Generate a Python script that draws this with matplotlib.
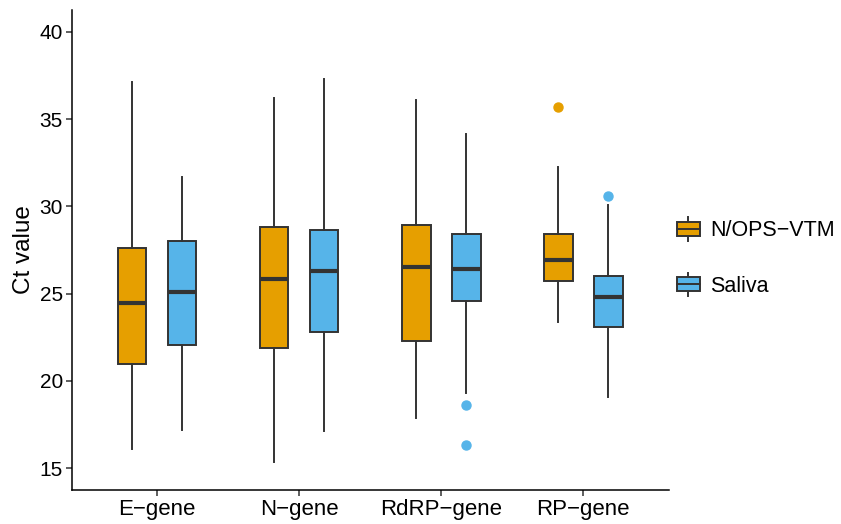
import matplotlib
matplotlib.use("Agg")
import matplotlib.pyplot as plt
from matplotlib.legend_handler import HandlerBase
from matplotlib.patches import Patch, Rectangle
from matplotlib.lines import Line2D

plt.rcParams['font.family'] = ['Liberation Sans', 'DejaVu Sans']

genes = ["E\u2212gene", "N\u2212gene", "RdRP\u2212gene", "RP\u2212gene"]
groups = ["N/OPS\u2212VTM", "Saliva"]
colors = ["#E69F00", "#56B4E9"]

# whislo, q1, median, q3, whishi
nops_lo = [16.07, 15.34, 17.87, 23.40]
nops_q1 = [20.96, 21.87, 22.30, 25.70]
nops_med = [24.44, 25.85, 26.50, 26.94]
nops_q3 = [27.60, 28.80, 28.94, 28.40]
nops_hi = [37.10, 36.20, 36.10, 32.26]
nops_out = [[], [], [], [35.7]]

sal_lo = [17.20, 17.14, 19.30, 19.07]
sal_q1 = [22.05, 22.80, 24.60, 23.10]
sal_med = [25.10, 26.30, 26.40, 24.80]
sal_q3 = [28.03, 28.65, 28.40, 26.03]
sal_hi = [31.70, 37.30, 34.15, 30.10]
sal_out = [[], [], [18.6, 16.3], [30.6]]

series = [
    (nops_lo, nops_q1, nops_med, nops_q3, nops_hi, nops_out),
    (sal_lo, sal_q1, sal_med, sal_q3, sal_hi, sal_out),
]

fig = plt.figure(figsize=(8.41, 5.24), dpi=100)
ax = fig.add_axes([0.0856, 0.0649, 0.795 - 0.0856, 0.981 - 0.0649])

edge = "#333333"
offsets = [-0.176, 0.176]
for gi, (lo, q1, med, q3, hi, out) in enumerate(series):
    stats = []
    for i in range(len(genes)):
        stats.append(dict(whislo=lo[i], q1=q1[i], med=med[i], q3=q3[i],
                          whishi=hi[i], fliers=out[i]))
    pos = [i + 1 + offsets[gi] for i in range(len(genes))]
    ax.bxp(stats, positions=pos, widths=0.2, patch_artist=True,
           showcaps=False,
           boxprops=dict(facecolor=colors[gi], edgecolor=edge, linewidth=1.4),
           whiskerprops=dict(color=edge, linewidth=1.4),
           medianprops=dict(color=edge, linewidth=3.0, solid_capstyle='butt'),
           flierprops=dict(marker='o', markerfacecolor=colors[gi],
                           markeredgecolor=colors[gi], markersize=6.5),
           manage_ticks=False)

ax.set_xlim(0.4, 4.6)
ax.set_ylim(13.75, 41.25)
ax.set_xticks(range(1, len(genes) + 1))
ax.set_xticklabels(genes)
ax.set_yticks([15, 20, 25, 30, 35, 40])
ax.tick_params(axis='both', color=edge, length=4, width=1.1,
               labelcolor='black', pad=2.5)
ax.tick_params(axis='y', labelsize=15)
ax.tick_params(axis='x', labelsize=16)
ax.set_ylabel("Ct value", fontsize=17.5, labelpad=3)
for s in ['top', 'right']:
    ax.spines[s].set_visible(False)
for s in ['left', 'bottom']:
    ax.spines[s].set_linewidth(1.1)
    ax.spines[s].set_color('black')


class BoxHandler(HandlerBase):
    def create_artists(self, legend, orig_handle, xdescent, ydescent,
                       width, height, fontsize, trans):
        fc = orig_handle.get_facecolor()
        x0, y0 = -xdescent, -ydescent
        cx = x0 + width / 2
        vline = Line2D([cx, cx], [y0, y0 + height], color=edge, lw=1.4,
                       transform=trans)
        rect = Rectangle((x0 + 0.06 * width, y0 + 0.2 * height),
                         0.88 * width, 0.6 * height, facecolor=fc,
                         edgecolor=edge, lw=1.4, transform=trans)
        med = Line2D([x0 + 0.06 * width, x0 + 0.94 * width],
                     [y0 + 0.5 * height, y0 + 0.5 * height], color=edge,
                     lw=1.4, transform=trans)
        return [vline, rect, med]


handles = [Patch(facecolor=c) for c in colors]
leg = fig.legend(handles, groups, handler_map={Patch: BoxHandler()},
                 loc='center left', bbox_to_anchor=(0.803, 0.5095),
                 frameon=False, fontsize=15.5, handlelength=1.2,
                 handleheight=1.3, labelspacing=1.45, handletextpad=0.42,
                 borderpad=0, borderaxespad=0)

fig.savefig("out.png", dpi=100)
